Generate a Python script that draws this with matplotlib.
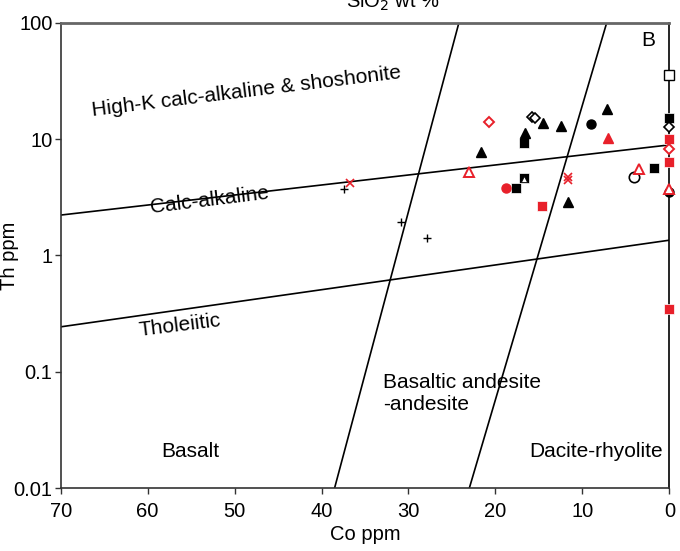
import matplotlib.pyplot as plt
import numpy as np

plt.rcParams['font.family'] = ['Liberation Sans', 'DejaVu Sans']

# field boundaries (Co, Th)
upper_co = [70, 0]
upper_th = [2.22, 8.9]
lower_co = [70, 0]
lower_th = [0.243, 1.35]
bas_co = [38.5, 24.2]
bas_th = [0.01, 100]
dac_co = [23.0, 7.2]
dac_th = [0.01, 100]

# samples
cross_co = [37.4, 30.9, 27.9]
cross_th = [3.72, 1.92, 1.40]

redx_co = [36.7, 11.7, 11.7]
redx_th = [4.2, 4.69, 4.44]

btri_co = [21.7, 16.6, 14.5, 12.5, 7.2, 11.7]
btri_th = [7.7, 11.2, 13.6, 13.0, 18.0, 2.86]

rtri_co = [7.1]
rtri_th = [10.3]

rtri_open_co = [23.0, 3.5, 0]
rtri_open_th = [5.2, 5.49, 3.72]

bsq_co = [16.7, 16.7, 17.6, 1.76, 0]
bsq_th = [9.3, 4.6, 3.8, 5.67, 15.1]

rsq_co = [14.6, 0, 0, 0]
rsq_th = [2.67, 10.0, 6.38, 0.345]

osq_co = [0]
osq_th = [35.5]

bcirc_co = [9.0, 0]
bcirc_th = [13.4, 3.52]

rcirc_co = [18.8]
rcirc_th = [3.8]

ocirc_co = [4.1]
ocirc_th = [4.74]

bdia_co = [15.8, 15.4, 0]
bdia_th = [15.6, 15.1, 12.6]

rdia_co = [20.7, 0]
rdia_th = [14.1, 8.15]

red = '#e8202a'

fig = plt.figure(figsize=(6.8, 5.51), dpi=100)
ax = fig.add_axes([0.0893, 0.1143, 0.895, 0.8445])

for xs, ys in [(upper_co, upper_th), (lower_co, lower_th),
               (bas_co, bas_th), (dac_co, dac_th)]:
    ax.plot(xs, ys, color='black', lw=1.2, zorder=2)

ax.axvline(0, color='black', lw=1.2, zorder=2, clip_on=False)

ms = 6.5
kw = dict(clip_on=False, linestyle='none')
ax.plot(cross_co, cross_th, '+', color='black', ms=6, mew=1, zorder=3, **kw)
ax.plot(redx_co, redx_th, 'x', color=red, ms=6, mew=1.2, zorder=3, **kw)
ax.plot(bsq_co, bsq_th, 's', color='black', mec='white', mew=0.5, ms=ms, zorder=3, **kw)
ax.plot(rsq_co, rsq_th, 's', color=red, mec='white', mew=0.5, ms=ms, zorder=3, **kw)
ax.plot(osq_co, osq_th, 's', mfc='white', mec='black', mew=1, ms=ms, zorder=3, **kw)
ax.plot(btri_co, btri_th, '^', color='black', ms=ms, zorder=3, **kw)
ax.plot([16.7], [4.55], '^', mfc='white', mec='black', mew=0.5, ms=4, zorder=4, **kw)
ax.plot(rtri_co, rtri_th, '^', color=red, ms=ms, zorder=3, **kw)
ax.plot(bcirc_co, bcirc_th, 'o', color='black', ms=ms, zorder=3, **kw)
ax.plot(rcirc_co, rcirc_th, 'o', color=red, ms=ms, zorder=3, **kw)
ax.plot(ocirc_co, ocirc_th, 'o', mfc='white', mec='black', mew=1.2, ms=ms + 1, zorder=3, **kw)
ax.plot(rtri_open_co, rtri_open_th, '^', mfc='white', mec=red, mew=1.4, ms=ms + 1, zorder=4, **kw)
ax.plot(bdia_co, bdia_th, 'D', mfc='white', mec='black', mew=1.2, ms=5, zorder=4, **kw)
ax.plot(rdia_co, rdia_th, 'D', mfc='white', mec=red, mew=1.4, ms=5, zorder=4, **kw)

ax.set_yscale('log')
ax.set_xlim(70, 0)
ax.set_ylim(0.01, 100)
ax.set_xticks([70, 60, 50, 40, 30, 20, 10, 0])
ax.set_yticks([0.01, 0.1, 1, 10, 100])
ax.set_yticklabels(['0.01', '0.1', '1', '10', '100'])
ax.yaxis.set_minor_locator(plt.NullLocator())
ax.tick_params(labelsize=14.5, direction='out', length=4, width=1,
               color='#333333', pad=2)
ax.tick_params(axis='x', pad=6)

ax.spines['top'].set_color('#666666')
ax.spines['top'].set_linewidth(2)
ax.spines['right'].set_visible(False)
for s in ['left', 'bottom']:
    ax.spines[s].set_color('#333333')
    ax.spines[s].set_linewidth(1.2)

ax.set_xlabel('Co ppm', fontsize=14.5, labelpad=3)
ax.set_ylabel('Th ppm', fontsize=14.5)
ax.yaxis.set_label_coords(-0.068, 0.5)

ax.text(48.6, 25.4, 'High-K calc-alkaline & shoshonite', fontsize=15,
        rotation=7, ha='center', va='center')
ax.text(52.9, 3.0, 'Calc-alkaline', fontsize=15, rotation=7, ha='center', va='center')
ax.text(56.3, 0.25, 'Tholeiitic', fontsize=15, rotation=7, ha='center', va='center')
ax.text(32.9, 0.065, 'Basaltic andesite\n-andesite', fontsize=15,
        ha='left', va='center', linespacing=1.25)
ax.text(55.1, 0.0205, 'Basalt', fontsize=15, ha='center', va='center')
ax.text(8.4, 0.0205, 'Dacite-rhyolite', fontsize=15, ha='center', va='center')
ax.text(2.4, 70, 'B', fontsize=15, ha='center', va='center')

fig.text(0.578, 0.996, 'SiO$_2$ wt %', fontsize=14.5, ha='center', va='center')

fig.savefig('out.png', dpi=100)
